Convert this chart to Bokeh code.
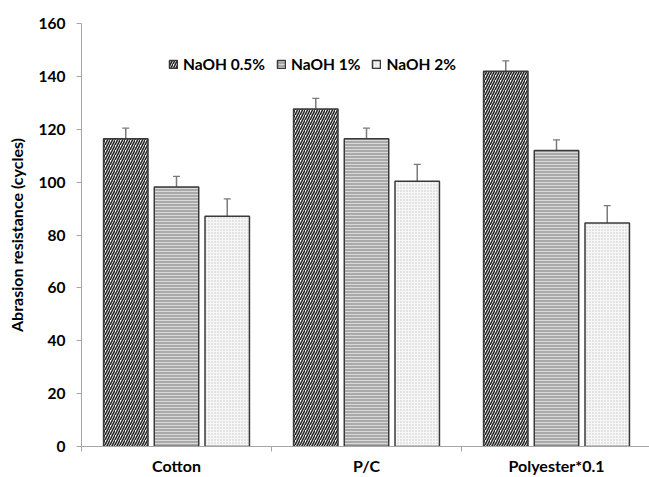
from bokeh.plotting import figure
from bokeh.models import (ColumnDataSource, Range1d, FixedTicker, Legend, LegendItem,
                          Whisker, TeeHead)
from bokeh.embed import file_html
from bokeh.resources import INLINE

categories = ["Cotton", "P/C", "Polyester*0.1"]
series = ["NaOH 0.5%", "NaOH 1%", "NaOH 2%"]
naoh_05 = [116.4, 127.7, 141.9]
naoh_1 = [98.2, 116.4, 112.0]
naoh_2 = [87.1, 100.3, 84.5]
err_05 = [4.0, 4.0, 4.0]
err_1 = [4.0, 4.0, 4.0]
err_2 = [6.6, 6.4, 6.6]
y_ticks = [0, 20, 40, 60, 80, 100, 120, 140, 160]

FONT = "Lato"
AXIS_COL = "#a6a6a6"

p = figure(width=649, height=477, output_backend="svg", toolbar_location=None,
           x_range=Range1d(0, 568 / 190), y_range=Range1d(0, 160),
           min_border_left=81, min_border_right=0, min_border_top=23, min_border_bottom=31)
p.outline_line_color = None
p.grid.visible = False
p.background_fill_color = "white"

centers = [i + 0.5 for i in range(len(categories))]
offsets = [-0.267, 0.0, 0.267]
values = [naoh_05, naoh_1, naoh_2]
errors = [err_05, err_1, err_2]
styles = [
    dict(fill_color="white", hatch_pattern="/", hatch_color="#262626", hatch_scale=5, hatch_weight=1.6),
    dict(fill_color="#a9a9a9", hatch_pattern="-", hatch_color="#e6e6e6", hatch_scale=3, hatch_weight=0.8),
    dict(fill_color="#f7f7f7", hatch_pattern=".", hatch_color="#c4c4c4", hatch_scale=3, hatch_weight=1),
]

items = []
for name, vals, errs, off, st in zip(series, values, errors, offsets, styles):
    src = ColumnDataSource(dict(
        x=[c + off for c in centers],
        top=vals,
        upper=[v + e for v, e in zip(vals, errs)],
        lower=[v - e for v, e in zip(vals, errs)],
    ))
    r = p.vbar(x="x", top="top", bottom=0, width=0.234, source=src,
               line_color="#3a3a3a", line_width=1.5, **st)
    items.append(LegendItem(label=name, renderers=[r]))
    w = Whisker(base="x", upper="upper", lower="lower", source=src,
                line_color="#7a7a7a", line_width=1.5,
                upper_head=TeeHead(size=7, line_color="#7a7a7a", line_width=1.2),
                lower_head=TeeHead(size=7, line_color="#7a7a7a", line_width=1.2))
    p.add_layout(w)

# axes
p.xaxis.ticker = FixedTicker(ticks=centers, minor_ticks=[0, 1, 2, 3])
p.xaxis.major_label_overrides = {c: n for c, n in zip(centers, categories)}
p.xaxis.major_tick_line_color = None
p.xaxis.major_tick_out = 0
p.xaxis.major_tick_in = 0
p.xaxis.minor_tick_out = 5
p.xaxis.minor_tick_in = 0
p.xaxis.minor_tick_line_color = AXIS_COL
p.xaxis.axis_line_color = AXIS_COL
p.xaxis.major_label_text_font = FONT
p.xaxis.major_label_text_font_style = "bold"
p.xaxis.major_label_text_font_size = "16px"
p.xaxis.major_label_text_color = "black"
p.xaxis.major_label_standoff = 4

p.yaxis.ticker = FixedTicker(ticks=y_ticks)
p.yaxis.minor_tick_line_color = None
p.yaxis.major_tick_out = 5
p.yaxis.major_tick_in = 0
p.yaxis.major_tick_line_color = AXIS_COL
p.yaxis.axis_line_color = AXIS_COL
p.yaxis.major_label_text_font = FONT
p.yaxis.major_label_text_font_style = "bold"
p.yaxis.major_label_text_font_size = "15.5px"
p.yaxis.major_label_text_color = "black"
p.yaxis.major_label_standoff = 11
p.yaxis.axis_label = "Abrasion resistance (cycles)"
p.yaxis.axis_label_text_font = FONT
p.yaxis.axis_label_text_font_style = "bold"
p.yaxis.axis_label_text_font_size = "16px"
p.yaxis.axis_label_text_color = "black"
p.yaxis.axis_label_standoff = 10

legend = Legend(items=items, orientation="horizontal", location=(87, 373),
                padding=0, margin=0, spacing=11, label_standoff=5,
                glyph_width=10, glyph_height=10,
                label_text_font=FONT, label_text_font_style="bold",
                label_text_font_size="15.5px", label_text_color="black",
                border_line_color=None, background_fill_alpha=0)
p.add_layout(legend, "center")

open("out.html", "w").write(file_html(p, INLINE))
